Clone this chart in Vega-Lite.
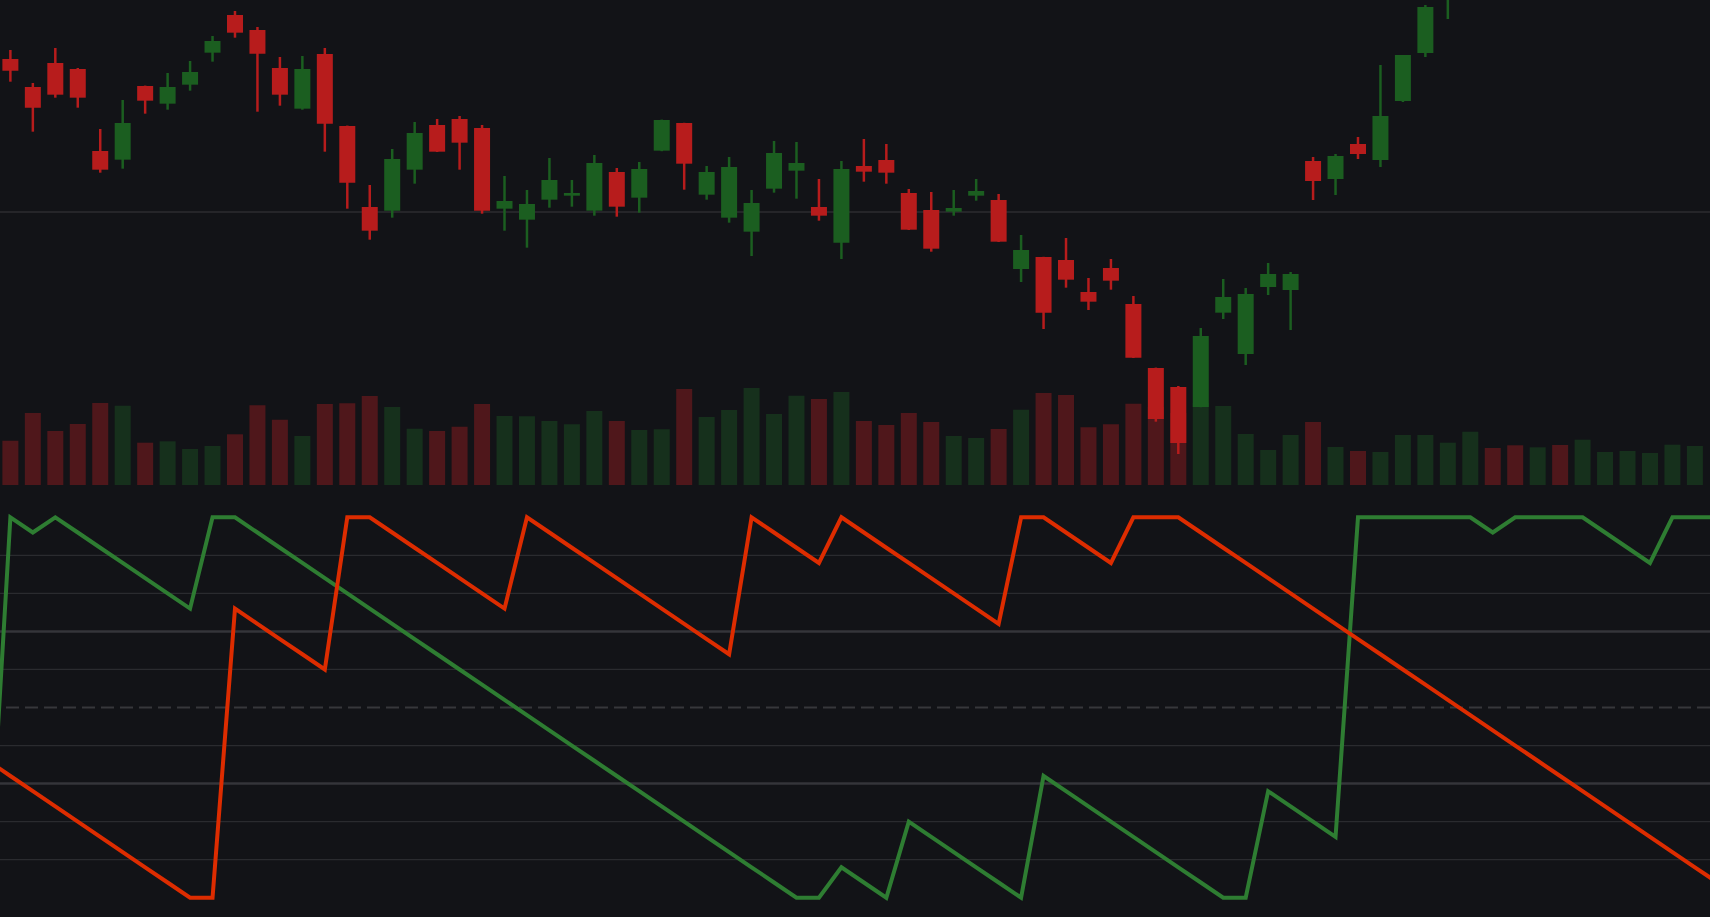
{
  "$schema": "https://vega.github.io/schema/vega-lite/v6.json",
  "width": 1710,
  "height": 917,
  "padding": 0,
  "autosize": {"type": "none"},
  "background": "#121317",
  "config": {"view": {"stroke": null}},
  "datasets": {
    "candles": [
      {"idx": 0, "open": 138.25, "high": 140.5, "low": 132.58, "close": 135.33, "volume": 443, "dir": "down"},
      {"idx": 1, "open": 131.25, "high": 132.25, "low": 120.08, "close": 126.08, "volume": 720, "dir": "down"},
      {"idx": 2, "open": 137.25, "high": 141, "low": 128.58, "close": 129.33, "volume": 540, "dir": "down"},
      {"idx": 3, "open": 135.75, "high": 136, "low": 126.08, "close": 128.58, "volume": 610, "dir": "down"},
      {"idx": 4, "open": 115.25, "high": 120.75, "low": 109.83, "close": 110.58, "volume": 820, "dir": "down"},
      {"idx": 5, "open": 113.08, "high": 128, "low": 110.83, "close": 122.25, "volume": 793, "dir": "up"},
      {"idx": 6, "open": 131.5, "high": 131.6, "low": 124.58, "close": 127.83, "volume": 423, "dir": "down"},
      {"idx": 7, "open": 127.08, "high": 134.75, "low": 125.58, "close": 131.25, "volume": 437, "dir": "up"},
      {"idx": 8, "open": 131.83, "high": 137.75, "low": 130.33, "close": 135, "volume": 360, "dir": "up"},
      {"idx": 9, "open": 139.83, "high": 144, "low": 137.58, "close": 142.75, "volume": 390, "dir": "up"},
      {"idx": 10, "open": 149.25, "high": 150.25, "low": 143.58, "close": 144.83, "volume": 507, "dir": "down"},
      {"idx": 11, "open": 145.5, "high": 146.25, "low": 125.08, "close": 139.58, "volume": 797, "dir": "down"},
      {"idx": 12, "open": 136, "high": 138.75, "low": 126.58, "close": 129.33, "volume": 653, "dir": "down"},
      {"idx": 13, "open": 125.83, "high": 139, "low": 125.58, "close": 135.75, "volume": 490, "dir": "up"},
      {"idx": 14, "open": 139.5, "high": 141, "low": 115.08, "close": 122.08, "volume": 810, "dir": "down"},
      {"idx": 15, "open": 121.5, "high": 121.6, "low": 100.83, "close": 107.33, "volume": 817, "dir": "down"},
      {"idx": 16, "open": 101.25, "high": 106.75, "low": 93.08, "close": 95.33, "volume": 890, "dir": "down"},
      {"idx": 17, "open": 100.33, "high": 115.75, "low": 98.58, "close": 113.25, "volume": 780, "dir": "up"},
      {"idx": 18, "open": 110.58, "high": 122.5, "low": 107.08, "close": 119.75, "volume": 563, "dir": "up"},
      {"idx": 19, "open": 121.75, "high": 123.25, "low": 115, "close": 115.08, "volume": 540, "dir": "down"},
      {"idx": 20, "open": 123.25, "high": 124, "low": 110.58, "close": 117.33, "volume": 583, "dir": "down"},
      {"idx": 21, "open": 121, "high": 121.75, "low": 99.58, "close": 100.33, "volume": 810, "dir": "down"},
      {"idx": 22, "open": 100.83, "high": 109, "low": 95.33, "close": 102.75, "volume": 690, "dir": "up"},
      {"idx": 23, "open": 98.08, "high": 105.5, "low": 91.08, "close": 102, "volume": 687, "dir": "up"},
      {"idx": 24, "open": 103.08, "high": 113.5, "low": 101.08, "close": 108, "volume": 640, "dir": "up"},
      {"idx": 25, "open": 104.08, "high": 108, "low": 101.33, "close": 104.75, "volume": 608, "dir": "up"},
      {"idx": 26, "open": 100.33, "high": 114.25, "low": 99.08, "close": 112.25, "volume": 740, "dir": "up"},
      {"idx": 27, "open": 110, "high": 111, "low": 98.83, "close": 101.33, "volume": 640, "dir": "down"},
      {"idx": 28, "open": 103.58, "high": 112.5, "low": 99.83, "close": 110.75, "volume": 550, "dir": "up"},
      {"idx": 29, "open": 115.33, "high": 123.1, "low": 115.2, "close": 123, "volume": 557, "dir": "up"},
      {"idx": 30, "open": 122.25, "high": 122.3, "low": 105.58, "close": 112.08, "volume": 960, "dir": "down"},
      {"idx": 31, "open": 104.33, "high": 111.5, "low": 103.08, "close": 110, "volume": 680, "dir": "up"},
      {"idx": 32, "open": 98.58, "high": 113.75, "low": 97.33, "close": 111.25, "volume": 750, "dir": "up"},
      {"idx": 33, "open": 95.08, "high": 105.5, "low": 89, "close": 102.25, "volume": 970, "dir": "up"},
      {"idx": 34, "open": 105.83, "high": 117.75, "low": 104.83, "close": 114.75, "volume": 710, "dir": "up"},
      {"idx": 35, "open": 110.33, "high": 117.5, "low": 103.33, "close": 112.25, "volume": 893, "dir": "up"},
      {"idx": 36, "open": 101.25, "high": 108.25, "low": 97.83, "close": 99.08, "volume": 860, "dir": "down"},
      {"idx": 37, "open": 92.33, "high": 112.75, "low": 88.25, "close": 110.75, "volume": 930, "dir": "up"},
      {"idx": 38, "open": 111.5, "high": 118.25, "low": 107.58, "close": 110.08, "volume": 640, "dir": "down"},
      {"idx": 39, "open": 113, "high": 117, "low": 107.08, "close": 109.83, "volume": 600, "dir": "down"},
      {"idx": 40, "open": 104.75, "high": 105.75, "low": 95.5, "close": 95.58, "volume": 720, "dir": "down"},
      {"idx": 41, "open": 100.5, "high": 105, "low": 90.08, "close": 90.83, "volume": 630, "dir": "down"},
      {"idx": 42, "open": 100.08, "high": 105.5, "low": 99.08, "close": 101, "volume": 490, "dir": "up"},
      {"idx": 43, "open": 104.08, "high": 108.25, "low": 102.83, "close": 105.25, "volume": 470, "dir": "up"},
      {"idx": 44, "open": 103, "high": 104.5, "low": 92.5, "close": 92.58, "volume": 560, "dir": "down"},
      {"idx": 45, "open": 85.75, "high": 94.25, "low": 82.5, "close": 90.5, "volume": 753, "dir": "up"},
      {"idx": 46, "open": 88.75, "high": 88.8, "low": 70.75, "close": 74.83, "volume": 920, "dir": "down"},
      {"idx": 47, "open": 88, "high": 93.5, "low": 81.08, "close": 83.08, "volume": 900, "dir": "down"},
      {"idx": 48, "open": 80, "high": 83.5, "low": 75.5, "close": 77.58, "volume": 577, "dir": "down"},
      {"idx": 49, "open": 86, "high": 88.25, "low": 80.58, "close": 82.83, "volume": 607, "dir": "down"},
      {"idx": 50, "open": 77, "high": 79, "low": 63.5, "close": 63.58, "volume": 812, "dir": "down"},
      {"idx": 51, "open": 61, "high": 61.1, "low": 47.58, "close": 48.25, "volume": 780, "dir": "down"},
      {"idx": 52, "open": 56.25, "high": 56.5, "low": 39.5, "close": 42.25, "volume": 720, "dir": "down"},
      {"idx": 53, "open": 51.25, "high": 71, "low": 51.2, "close": 69, "volume": 820, "dir": "up"},
      {"idx": 54, "open": 74.83, "high": 83.25, "low": 73.25, "close": 78.75, "volume": 790, "dir": "up"},
      {"idx": 55, "open": 64.5, "high": 81, "low": 61.75, "close": 79.5, "volume": 510, "dir": "up"},
      {"idx": 56, "open": 81.25, "high": 87.25, "low": 79.25, "close": 84.5, "volume": 350, "dir": "up"},
      {"idx": 57, "open": 80.5, "high": 85, "low": 70.5, "close": 84.5, "volume": 500, "dir": "up"},
      {"idx": 58, "open": 112.75, "high": 113.75, "low": 103, "close": 107.75, "volume": 630, "dir": "down"},
      {"idx": 59, "open": 108.25, "high": 114.5, "low": 104.25, "close": 114, "volume": 380, "dir": "up"},
      {"idx": 60, "open": 117, "high": 118.75, "low": 113.25, "close": 114.5, "volume": 340, "dir": "down"},
      {"idx": 61, "open": 113, "high": 136.75, "low": 111.25, "close": 124, "volume": 330, "dir": "up"},
      {"idx": 62, "open": 127.75, "high": 139.25, "low": 127.5, "close": 139.25, "volume": 500, "dir": "up"},
      {"idx": 63, "open": 139.75, "high": 151.75, "low": 138.75, "close": 151.25, "volume": 500, "dir": "up"},
      {"idx": 64, "open": 153.5, "high": 168, "low": 148.25, "close": 163, "volume": 423, "dir": "up"},
      {"idx": 65, "open": 163, "high": 175, "low": 161, "close": 172, "volume": 533, "dir": "up"},
      {"idx": 66, "open": 173, "high": 174, "low": 166, "close": 169, "volume": 370, "dir": "down"},
      {"idx": 67, "open": 170, "high": 172, "low": 163, "close": 166, "volume": 397, "dir": "down"},
      {"idx": 68, "open": 166, "high": 179, "low": 164, "close": 176, "volume": 377, "dir": "up"},
      {"idx": 69, "open": 176, "high": 178, "low": 170, "close": 172, "volume": 400, "dir": "down"},
      {"idx": 70, "open": 172, "high": 190, "low": 171, "close": 186, "volume": 453, "dir": "up"},
      {"idx": 71, "open": 184, "high": 188, "low": 181, "close": 187, "volume": 330, "dir": "up"},
      {"idx": 72, "open": 185, "high": 187, "low": 182, "close": 186.5, "volume": 340, "dir": "up"},
      {"idx": 73, "open": 185, "high": 189, "low": 183, "close": 188, "volume": 320, "dir": "up"},
      {"idx": 74, "open": 188, "high": 195, "low": 187, "close": 194, "volume": 403, "dir": "up"},
      {"idx": 75, "open": 194, "high": 200, "low": 192, "close": 198, "volume": 390, "dir": "up"}
    ],
    "aroon": [
      {"idx": -1, "up": 0, "down": 36},
      {"idx": 0, "up": 100, "down": 32},
      {"idx": 1, "up": 96, "down": 28},
      {"idx": 2, "up": 100, "down": 24},
      {"idx": 3, "up": 96, "down": 20},
      {"idx": 4, "up": 92, "down": 16},
      {"idx": 5, "up": 88, "down": 12},
      {"idx": 6, "up": 84, "down": 8},
      {"idx": 7, "up": 80, "down": 4},
      {"idx": 8, "up": 76, "down": 0},
      {"idx": 9, "up": 100, "down": 0},
      {"idx": 10, "up": 100, "down": 76},
      {"idx": 11, "up": 96, "down": 72},
      {"idx": 12, "up": 92, "down": 68},
      {"idx": 13, "up": 88, "down": 64},
      {"idx": 14, "up": 84, "down": 60},
      {"idx": 15, "up": 80, "down": 100},
      {"idx": 16, "up": 76, "down": 100},
      {"idx": 17, "up": 72, "down": 96},
      {"idx": 18, "up": 68, "down": 92},
      {"idx": 19, "up": 64, "down": 88},
      {"idx": 20, "up": 60, "down": 84},
      {"idx": 21, "up": 56, "down": 80},
      {"idx": 22, "up": 52, "down": 76},
      {"idx": 23, "up": 48, "down": 100},
      {"idx": 24, "up": 44, "down": 96},
      {"idx": 25, "up": 40, "down": 92},
      {"idx": 26, "up": 36, "down": 88},
      {"idx": 27, "up": 32, "down": 84},
      {"idx": 28, "up": 28, "down": 80},
      {"idx": 29, "up": 24, "down": 76},
      {"idx": 30, "up": 20, "down": 72},
      {"idx": 31, "up": 16, "down": 68},
      {"idx": 32, "up": 12, "down": 64},
      {"idx": 33, "up": 8, "down": 100},
      {"idx": 34, "up": 4, "down": 96},
      {"idx": 35, "up": 0, "down": 92},
      {"idx": 36, "up": 0, "down": 88},
      {"idx": 37, "up": 8, "down": 100},
      {"idx": 38, "up": 4, "down": 96},
      {"idx": 39, "up": 0, "down": 92},
      {"idx": 40, "up": 20, "down": 88},
      {"idx": 41, "up": 16, "down": 84},
      {"idx": 42, "up": 12, "down": 80},
      {"idx": 43, "up": 8, "down": 76},
      {"idx": 44, "up": 4, "down": 72},
      {"idx": 45, "up": 0, "down": 100},
      {"idx": 46, "up": 32, "down": 100},
      {"idx": 47, "up": 28, "down": 96},
      {"idx": 48, "up": 24, "down": 92},
      {"idx": 49, "up": 20, "down": 88},
      {"idx": 50, "up": 16, "down": 100},
      {"idx": 51, "up": 12, "down": 100},
      {"idx": 52, "up": 8, "down": 100},
      {"idx": 53, "up": 4, "down": 96},
      {"idx": 54, "up": 0, "down": 92},
      {"idx": 55, "up": 0, "down": 88},
      {"idx": 56, "up": 28, "down": 84},
      {"idx": 57, "up": 24, "down": 80},
      {"idx": 58, "up": 20, "down": 76},
      {"idx": 59, "up": 16, "down": 72},
      {"idx": 60, "up": 100, "down": 68},
      {"idx": 61, "up": 100, "down": 64},
      {"idx": 62, "up": 100, "down": 60},
      {"idx": 63, "up": 100, "down": 56},
      {"idx": 64, "up": 100, "down": 52},
      {"idx": 65, "up": 100, "down": 48},
      {"idx": 66, "up": 96, "down": 44},
      {"idx": 67, "up": 100, "down": 40},
      {"idx": 68, "up": 100, "down": 36},
      {"idx": 69, "up": 100, "down": 32},
      {"idx": 70, "up": 100, "down": 28},
      {"idx": 71, "up": 96, "down": 24},
      {"idx": 72, "up": 92, "down": 20},
      {"idx": 73, "up": 88, "down": 16},
      {"idx": 74, "up": 100, "down": 12},
      {"idx": 75, "up": 100, "down": 8},
      {"idx": 76, "up": 100, "down": 4}
    ]
  },
  "layer": [
    {
      "data": {"values": [{"price": 100}]},
      "mark": {"type": "rule", "color": "#2c2d31", "strokeWidth": 1.5},
      "encoding": {
        "y": {"field": "price", "type": "quantitative", "scale": {"domain": [-76.25, 153], "nice": false, "zero": false}, "axis": null}
      }
    },
    {
      "data": {"values": [{"level": 10}, {"level": 20}, {"level": 40}, {"level": 60}, {"level": 80}, {"level": 90}]},
      "mark": {"type": "rule", "color": "#2a2b2f", "strokeWidth": 1.2},
      "encoding": {
        "y": {"field": "level", "type": "quantitative", "scale": {"domain": [-5.07, 235.99], "nice": false, "zero": false}, "axis": null}
      }
    },
    {
      "data": {"values": [{"level": 30}, {"level": 70}]},
      "mark": {"type": "rule", "color": "#34353a", "strokeWidth": 2.5},
      "encoding": {
        "y": {"field": "level", "type": "quantitative", "scale": {"domain": [-5.07, 235.99], "nice": false, "zero": false}, "axis": null}
      }
    },
    {
      "data": {"values": [{"level": 50}]},
      "mark": {"type": "rule", "color": "#36373b", "strokeWidth": 2, "strokeDash": [13, 6]},
      "encoding": {
        "y": {"field": "level", "type": "quantitative", "scale": {"domain": [-5.07, 235.99], "nice": false, "zero": false}, "axis": null}
      }
    },
    {
      "data": {"name": "candles"},
      "mark": {"type": "bar", "width": 16},
      "encoding": {
        "x": {"field": "idx", "type": "quantitative", "scale": {"domain": [-0.24, 75.45], "nice": false, "zero": false}, "axis": null},
        "y": {"field": "volume", "type": "quantitative", "scale": {"domain": [-4320, 4850], "nice": false, "zero": false}, "axis": null},
        "y2": {"datum": 0},
        "color": {"field": "dir", "type": "nominal", "scale": {"domain": ["up", "down"], "range": ["#16301c", "#4f171b"]}, "legend": null}
      }
    },
    {
      "data": {"name": "candles"},
      "mark": {"type": "rule", "strokeWidth": 2.5, "clip": true},
      "encoding": {
        "x": {"field": "idx", "type": "quantitative", "scale": {"domain": [-0.24, 75.45], "nice": false, "zero": false}, "axis": null},
        "y": {"field": "low", "type": "quantitative", "scale": {"domain": [-76.25, 153], "nice": false, "zero": false}, "axis": null},
        "y2": {"field": "high"},
        "color": {"field": "dir", "type": "nominal", "scale": {"domain": ["up", "down"], "range": ["#1b5e20", "#b71c1c"]}, "legend": null}
      }
    },
    {
      "data": {"name": "candles"},
      "mark": {"type": "bar", "width": 16, "clip": true},
      "encoding": {
        "x": {"field": "idx", "type": "quantitative", "scale": {"domain": [-0.24, 75.45], "nice": false, "zero": false}, "axis": null},
        "y": {"field": "open", "type": "quantitative", "scale": {"domain": [-76.25, 153], "nice": false, "zero": false}, "axis": null},
        "y2": {"field": "close"},
        "color": {"field": "dir", "type": "nominal", "scale": {"domain": ["up", "down"], "range": ["#1b5e20", "#b71c1c"]}, "legend": null}
      }
    },
    {
      "data": {"name": "aroon"},
      "mark": {"type": "line", "color": "#2e7d32", "strokeWidth": 4, "clip": true},
      "encoding": {
        "x": {"field": "idx", "type": "quantitative", "scale": {"domain": [-0.24, 75.45], "nice": false, "zero": false}, "axis": null},
        "y": {"field": "up", "type": "quantitative", "scale": {"domain": [-5.07, 235.99], "nice": false, "zero": false}, "axis": null}
      }
    },
    {
      "data": {"name": "aroon"},
      "mark": {"type": "line", "color": "#dd2c00", "strokeWidth": 4, "clip": true},
      "encoding": {
        "x": {"field": "idx", "type": "quantitative", "scale": {"domain": [-0.24, 75.45], "nice": false, "zero": false}, "axis": null},
        "y": {"field": "down", "type": "quantitative", "scale": {"domain": [-5.07, 235.99], "nice": false, "zero": false}, "axis": null}
      }
    }
  ],
  "resolve": {"scale": {"y": "independent", "color": "independent"}}
}
